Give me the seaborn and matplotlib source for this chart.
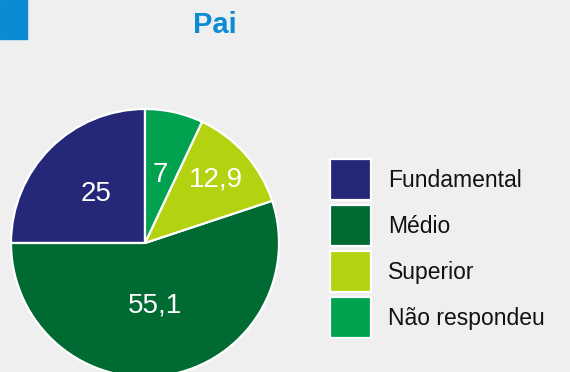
import matplotlib
matplotlib.use("Agg")
import matplotlib.pyplot as plt
from matplotlib.patches import Rectangle
import numpy as np
import seaborn as sns

# Escolaridade do pai (%)
categorias = ["Fundamental", "Médio", "Superior", "Não respondeu"]
valores = [25, 55.1, 12.9, 7]
rotulos = ["25", "55,1", "12,9", "7"]
titulo = "Pai"

sns.set_theme(style="white")
plt.rcParams["font.family"] = ["Liberation Sans", "DejaVu Sans"]

cores = sns.color_palette(["#252878", "#006a33", "#b4d20f", "#00a14f"])
fundo = "#efefef"
azul = "#0a8cd4"

W, H = 570, 372
fig = plt.figure(figsize=(W / 100, H / 100), dpi=100, facecolor=fundo)

# faixa azul no canto superior esquerdo
fig.patches.append(Rectangle((0, 1 - 39 / H), 27 / W, 39 / H,
                             transform=fig.transFigure, color=azul, zorder=0))

fig.text(215 / W, 1 - 25 / H, titulo, ha="center", va="center",
         fontsize=21, fontweight="bold", color=azul)

# pizza: centro (145, 243) px, raio 134 px
cx, cy, r = 145, 243, 134
m = 3
ax = fig.add_axes([(cx - r - m) / W, (H - cy - r - m) / H,
                   2 * (r + m) / W, 2 * (r + m) / H])
ax.set_facecolor("none")
wedges, _ = ax.pie(valores, colors=cores, startangle=90, counterclock=True,
                   radius=1,
                   wedgeprops=dict(edgecolor="white", linewidth=1.6))
lim = 1 + m / r
ax.set_xlim(-lim, lim)
ax.set_ylim(-lim, lim)
ax.set_aspect("equal")
ax.axis("off")

dist = [0.52, 0.47, 0.71, 0.52]
for w, txt, d in zip(wedges, rotulos, dist):
    ang = np.deg2rad((w.theta1 + w.theta2) / 2)
    ax.text(d * np.cos(ang), d * np.sin(ang), txt, ha="center", va="center",
            fontsize=20, color="white")

fs = 16.5
fpx = fs * 100 / 72
caixa = 41
hh = (caixa / fpx - 0.245) / 0.65
leg = fig.legend(wedges, categorias, loc="upper left",
                 bbox_to_anchor=(330 / W, 1 - 159 / H),
                 frameon=False, fontsize=fs, borderpad=0, borderaxespad=0,
                 handlelength=caixa / fpx, handleheight=hh,
                 labelspacing=5 / fpx, handletextpad=17 / fpx)
for t in leg.get_texts():
    t.set_color("#111111")

fig.savefig("out.png", dpi=100, facecolor=fundo)
